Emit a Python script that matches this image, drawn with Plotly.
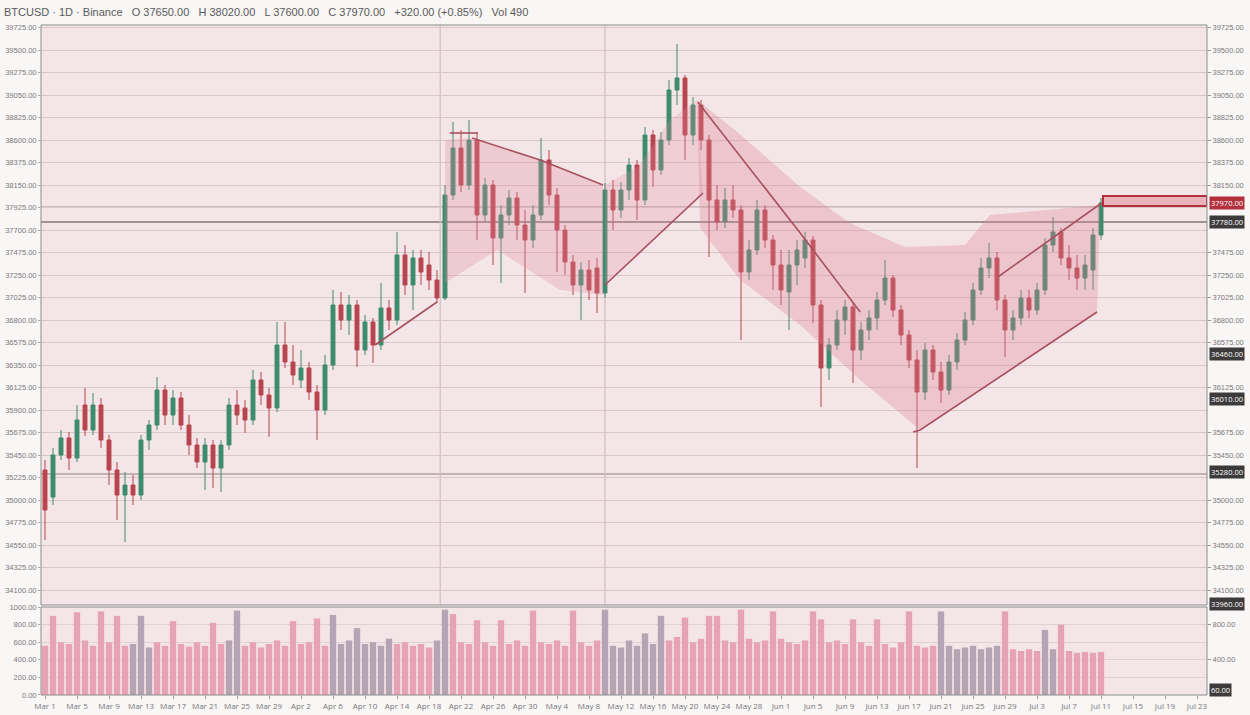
import pandas as pd
import plotly.graph_objects as go

# ---------------- data ----------------
title_text = "BTCUSD · 1D · Binance   O 37650.00   H 38020.00   L 37600.00   C 37970.00   +320.00 (+0.85%)   Vol 490"
start_date = "2023-03-01"

open_ = [35300, 35030, 35450, 35620, 35420, 35950, 35700, 35950, 35600, 35300,
         35050, 35150, 35050, 35600, 35750, 36100, 35850, 36020, 35750, 35550,
         35380, 35550, 35320, 35550, 35950, 35920, 35800, 36200, 36050, 35920,
         36550, 36380, 36200, 36320, 36080, 35900, 36350, 36950, 36800, 36950,
         36500, 36780, 36550, 36920, 36800, 37450, 37150, 37420, 37350, 37200,
         37020, 38050, 38520, 38150, 38600, 37850, 38150, 37620, 37850, 38020,
         37750, 37600, 37850, 38400, 38050, 37700, 37380, 37150, 37300, 37320,
         37070, 38100, 37900, 38100, 38350, 38000, 38650, 38300, 38600, 39100,
         39220, 38650, 38950, 38600, 38000, 37780, 38000, 37900, 37280, 37500,
         37900, 37600, 37350, 37080, 37350, 37420, 37600, 36950, 36320, 36550,
         36800, 36930, 36500, 36700, 36820, 37000, 37220, 36900, 36650, 36400,
         36080, 36500, 36280, 36100, 36380, 36600, 36800, 37100, 37320, 37420,
         37000, 36700, 36820, 37020, 36900, 37100, 37550, 37680, 37420, 37320,
         37220, 37300, 37650]
high = [35400, 35520, 35700, 35680, 35950, 36120, 36070, 36020, 35650, 35380,
        35280, 35250, 35650, 35800, 36230, 36150, 36100, 36080, 35850, 35620,
        35620, 35600, 35600, 36020, 36100, 36000, 36300, 36280, 36120, 36780,
        36780, 36550, 36500, 36380, 36150, 36450, 37100, 37080, 37050, 37000,
        36850, 36820, 37170, 37000, 37680, 37550, 37500, 37500, 37480, 37300,
        38150, 38780, 38700, 38800, 38680, 38220, 38200, 37950, 38100, 38080,
        37900, 37950, 38620, 38500, 38120, 37750, 37450, 37380, 37400, 37420,
        38170, 38200, 38180, 38420, 38400, 38730, 38700, 38680, 39200, 39560,
        39250, 39030, 39000, 38650, 38150, 38120, 38150, 37950, 37600, 38000,
        37950, 37650, 37500, 37500, 37600, 37680, 37640, 37000, 36620, 36900,
        37000, 36980, 36780, 36900, 37080, 37400, 37250, 36950, 36700, 36500,
        36570, 36550, 36380, 36450, 36670, 36880, 37170, 37420, 37570, 37480,
        37050, 36900, 37100, 37100, 37170, 37620, 37830, 37720, 37550, 37450,
        37450, 37720, 38020]
low = [34600, 34950, 35400, 35300, 35380, 35640, 35650, 35520, 35150, 34800,
       34580, 34950, 35000, 35500, 35700, 35750, 35750, 35700, 35450, 35320,
       35100, 35120, 35080, 35500, 35750, 35670, 35750, 35950, 35630, 35880,
       36320, 36150, 36120, 36000, 35600, 35850, 36300, 36700, 36650, 36330,
       36450, 36370, 36500, 36700, 36750, 37050, 36900, 37150, 37100, 36970,
       37000, 38000, 38080, 38100, 37600, 37780, 37350, 37170, 37750, 37600,
       37070, 37520, 37800, 37950, 37280, 37250, 37050, 36800, 37000, 36870,
       37020, 37700, 37820, 38000, 37800, 37950, 38130, 38250, 38550, 38950,
       38400, 38550, 38500, 37430, 37700, 37720, 37820, 36600, 37200, 37450,
       37520, 37100, 36950, 36700, 37150, 37320, 36770, 35930, 36200, 36500,
       36650, 36170, 36400, 36600, 36700, 36950, 36830, 36550, 36320, 35320,
       36000, 36200, 35970, 36050, 36300, 36550, 36750, 37050, 37220, 36900,
       36430, 36600, 36750, 36820, 36850, 37050, 37480, 37350, 37200, 37100,
       37100, 37100, 37600]
close = [34900, 35450, 35620, 35420, 35800, 35700, 35950, 35600, 35300, 35050,
         35150, 35050, 35600, 35750, 36100, 35850, 36020, 35750, 35550, 35380,
         35550, 35320, 35550, 35950, 35850, 35800, 36200, 36050, 35920, 36550,
         36380, 36250, 36320, 36080, 35900, 36350, 36950, 36800, 36950, 36500,
         36780, 36550, 36920, 36800, 37450, 37150, 37420, 37280, 37200, 37020,
         38050, 38520, 38150, 38600, 37850, 38150, 37620, 37850, 38020, 37750,
         37600, 37850, 38400, 38050, 37700, 37380, 37150, 37300, 37100, 37070,
         38100, 37900, 38100, 38350, 38000, 38650, 38300, 38600, 39100, 39220,
         38650, 38950, 38600, 38000, 37780, 38000, 37900, 37280, 37500, 37900,
         37600, 37350, 37100, 37350, 37500, 37600, 36950, 36320, 36550, 36800,
         36930, 36500, 36700, 36820, 37000, 37220, 36900, 36650, 36400, 36080,
         36500, 36280, 36100, 36380, 36600, 36800, 37100, 37320, 37420, 37000,
         36700, 36820, 37020, 36900, 37100, 37550, 37680, 37420, 37320, 37220,
         37350, 37650, 37970]
volume = [560, 900, 600, 580, 940, 620, 560, 950, 600, 900,
          560, 580, 900, 540, 600, 560, 840, 580, 550, 600,
          560, 820, 580, 620, 960, 560, 600, 540, 580, 620,
          560, 840, 580, 600, 870, 560, 910, 580, 620, 760,
          580, 600, 560, 640, 580, 600, 560, 580, 540, 620,
          970, 920, 600, 580, 850, 600, 560, 850, 580, 620,
          560, 960, 600, 580, 620, 560, 960, 600, 560, 620,
          970, 560, 540, 620, 560, 700, 580, 900, 620, 660,
          880, 600, 640, 900, 900, 620, 600, 970, 640, 600,
          620, 950, 640, 600, 580, 620, 950, 860, 600, 620,
          580, 860, 600, 560, 860, 580, 540, 600, 950, 560,
          540, 560, 950, 560, 520, 540, 560, 520, 540, 560,
          950, 520, 500, 520, 500, 740, 520, 800, 500, 480,
          490, 480, 490]
# volume group per bar: p = regular session, g = low-liquidity session
vol_group = list("pppppppppp" "pgggpppppp" "pppggppppp" "ppppppgggg" "ggggpppppg"
                 "gppppppppp" "pppppppppp" "ggggggggpp" "pppppppppp" "pppppppppp"
                 "pppppppppp" "ppgggggggg" "pppppggppp" "ppp")

# pattern zones: (bar index, price) vertices
zone_flag = [(50, 38600), (53.4, 38620), (61.9, 38400), (69.75, 38150), (69.75, 37050),
             (64.4, 37100), (56.5, 37500), (50, 37170)]
zone_rise = [(70, 38150), (74.4, 38350), (78.1, 38800), (81.5, 39000), (82.25, 38050), (70, 37150)]
zone_channel = [(81.5, 39000), (86.25, 38700), (94.4, 38130), (100.6, 37770), (107.5, 37530),
                (115, 37550), (118.1, 37850), (131.9, 37950), (131.5, 36880), (109.4, 35700),
                (101.9, 36200), (94.4, 36750), (86.9, 37200), (81.9, 37720)]
# trend lines: (bar index, price) vertices
trend_lines = [
    [(41.25, 36550), (49, 36980)],
    [(50.6, 38670), (54.1, 38670)],
    [(53.4, 38620), (61.9, 38400), (69.75, 38150)],
    [(70, 37150), (82.25, 38070)],
    [(81.6, 38980), (94.4, 37670), (101.9, 36880)],
    [(108.5, 35680), (109.4, 35700), (131.5, 36880)],
    [(119.1, 37230), (132.25, 37980)],
]
levels = [37930, 37780, 35260]
current_band = (37940, 38040)
event_bars = [49.4, 70]
level_tags = [37780, 36460, 36010, 35280, 33960]
volume_tags = [60]

# ---------------- figure ----------------
t0 = pd.Timestamp(start_date)
dates = [t0 + pd.Timedelta(days=i) for i in range(len(close))]


def at(idx):
    return t0 + pd.Timedelta(days=idx)


x_lo = at(-0.5)
x_hi = at(145.25)

fig = go.Figure()

for poly, col in [(zone_flag, 'rgba(226,140,158,0.30)'),
                  (zone_rise, 'rgba(226,140,158,0.26)'),
                  (zone_channel, 'rgba(222,128,148,0.32)')]:
    fig.add_trace(go.Scatter(x=[at(p[0]) for p in poly] + [at(poly[0][0])],
                             y=[p[1] for p in poly] + [poly[0][1]],
                             fill='toself', fillcolor=col, mode='lines',
                             line=dict(width=0), hoverinfo='skip', showlegend=False,
                             xaxis='x', yaxis='y'))

for ln in trend_lines:
    fig.add_trace(go.Scatter(x=[at(p[0]) for p in ln], y=[p[1] for p in ln], mode='lines',
                             line=dict(color='#a9505e', width=1.6), hoverinfo='skip',
                             showlegend=False, xaxis='x', yaxis='y'))

fig.add_trace(go.Candlestick(
    x=dates, open=open_, high=high, low=low, close=close,
    increasing=dict(line=dict(color='#3e8a6d', width=1), fillcolor='#3e8a6d'),
    decreasing=dict(line=dict(color='#b8444e', width=1), fillcolor='#b8444e'),
    whiskerwidth=0, showlegend=False, xaxis='x', yaxis='y'))

tone = {'p': '#e6a3b6', 'g': '#b5a4b1'}
fig.add_trace(go.Bar(x=dates, y=volume, marker=dict(color=[tone[g] for g in vol_group], line=dict(width=0)),
                     showlegend=False, xaxis='x', yaxis='y2'))

# invisible helpers so the right-hand axes are drawn
fig.add_trace(go.Scatter(x=dates, y=close, mode='lines', line=dict(width=0), opacity=0,
                         hoverinfo='skip', showlegend=False, xaxis='x', yaxis='y3'))
fig.add_trace(go.Scatter(x=dates, y=volume, mode='lines', line=dict(width=0), opacity=0,
                         hoverinfo='skip', showlegend=False, xaxis='x', yaxis='y4'))

price_dom = [0.1343, 1]
vol_dom = [0, 0.1313]
price_rng = [33950, 39750]
vol_rng = [0, 1000]
price_step = 225
price_ticks = [39725 - price_step * k for k in range(30) if 39725 - price_step * k >= price_rng[0]]
tag_prices = level_tags + [close[-1]]
right_ticks = [t for t in price_ticks if all(abs(t - g) > 110 for g in tag_prices)]

tickfont = dict(size=7.5, color='#7a7a7a', family='Liberation Sans, Arial, sans-serif')

shapes = []
for lv, col, w in zip(levels, ['#a39396', '#857679', '#8e8082'], [1, 1.6, 1.2]):
    shapes.append(dict(type='line', xref='x domain', x0=0, x1=1, yref='y', y0=lv, y1=lv,
                       line=dict(color=col, width=w), layer='below'))
for eb in event_bars:
    shapes.append(dict(type='line', xref='x', x0=at(eb), x1=at(eb), yref='y domain', y0=0, y1=1,
                       line=dict(color='#cdbcbf', width=1.2), layer='below'))
shapes.append(dict(type='rect', xref='x', x0=at(132.25), x1=x_hi, yref='y',
                   y0=current_band[0], y1=current_band[1],
                   fillcolor='#e9b3bb', line=dict(color='#b3303c', width=2)))
shapes.append(dict(type='rect', xref='paper', x0=0, x1=1, yref='paper', y0=price_dom[0], y1=1,
                   line=dict(color='#8c8c8c', width=1)))
shapes.append(dict(type='rect', xref='paper', x0=0, x1=1, yref='paper', y0=0, y1=vol_dom[1],
                   line=dict(color='#8c8c8c', width=1)))

annotations = [dict(text=title_text, xref='paper', yref='paper', x=-39 / 1166, y=1 + 13 / 670,
                    xanchor='left', yanchor='middle', showarrow=False,
                    font=dict(size=11, color='#5a5a5a', family='Liberation Sans, Arial, sans-serif'))]
annotations.append(dict(text=f"{close[-1]:.2f}", xref='paper', x=1.002, xanchor='left', yref='y',
                        y=close[-1], yanchor='middle', showarrow=False, bgcolor='#b3303c',
                        font=dict(size=7.5, color='white'), borderpad=1))
for lt in level_tags:
    annotations.append(dict(text=f"{lt:.2f}", xref='paper', x=1.002, xanchor='left', yref='y',
                            y=lt, yanchor='middle', showarrow=False, bgcolor='#3c3a3b',
                            font=dict(size=7.5, color='white'), borderpad=1))
for vt in volume_tags:
    annotations.append(dict(text=f"{vt:.2f}", xref='paper', x=1.002, xanchor='left', yref='y2',
                            y=vt, yanchor='middle', showarrow=False, bgcolor='#3c3a3b',
                            font=dict(size=7.5, color='white'), borderpad=1))

fig.update_layout(
    width=1250, height=715, margin=dict(l=41, r=43, t=25, b=20, autoexpand=False),
    paper_bgcolor='#f9f6f6', plot_bgcolor='#f4e6e8', showlegend=False,
    bargap=0.2, hovermode=False,
    xaxis=dict(domain=[0, 1], anchor='y2', type='date', range=[x_lo, x_hi], automargin=False,
               rangeslider=dict(visible=False), showgrid=False, ticks='outside', ticklen=3,
               tickcolor='#999', tickfont=dict(size=8, color='#777'), dtick=4 * 86400000,
               tickformat='%b %-d', tickangle=0, showline=False, zeroline=False),
    yaxis=dict(domain=price_dom, anchor='x', range=price_rng, tick0=39725, dtick=price_step,
               automargin=False, tickformat='.2f', tickfont=tickfont, ticks='outside', ticklen=2,
               tickcolor='#aaa', showgrid=True, gridcolor='#d9c7ca', gridwidth=1, zeroline=False),
    yaxis2=dict(domain=vol_dom, anchor='x', range=vol_rng, dtick=200, tickformat='.2f',
                automargin=False, tickfont=tickfont, ticks='outside', ticklen=2, tickcolor='#aaa',
                showgrid=True, gridcolor='#e0d0d3', zeroline=False),
    yaxis3=dict(overlaying='y', anchor='x', side='right', range=price_rng, tickmode='array',
                tickvals=right_ticks, automargin=False,
                tickformat='.2f', tickfont=tickfont, ticks='outside', ticklen=3, tickcolor='#999',
                showgrid=False, zeroline=False, showline=False),
    yaxis4=dict(overlaying='y2', anchor='x', side='right', range=vol_rng, tickmode='array',
                tickvals=[400, 800], automargin=False,
                tickformat='.2f', tickfont=tickfont, ticks='outside', ticklen=3, tickcolor='#999',
                showgrid=False, zeroline=False, showline=False),
    shapes=shapes, annotations=annotations,
)

fig.write_html("out.html", config={'displayModeBar': False},
               post_script="document.body.style.margin='0';document.body.style.overflow='hidden';")
